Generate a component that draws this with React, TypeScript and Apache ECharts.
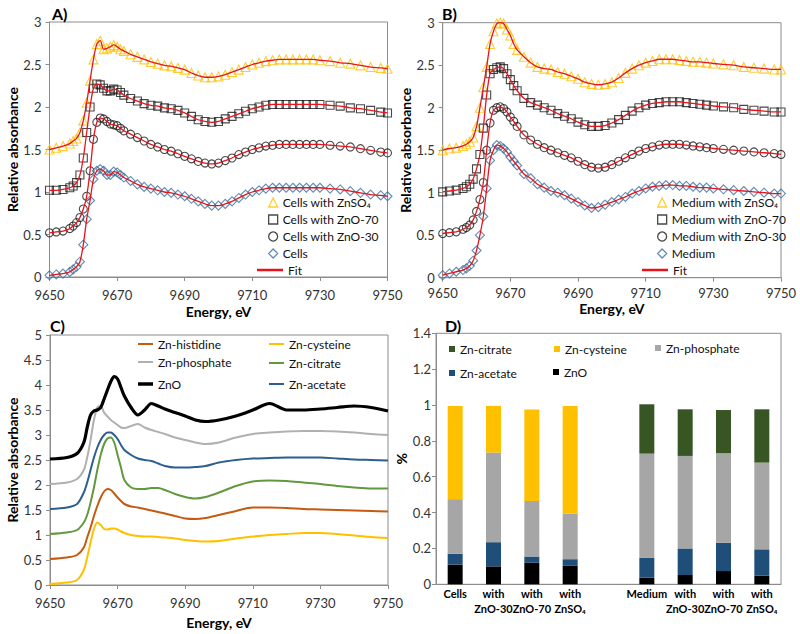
import React, { useEffect, useRef } from 'react';
import * as echarts from 'echarts';

const FONT = 'Lato, "Noto Sans", sans-serif';

// ---------- Panels A and B: energy grid (eV) ----------
const energyAB = [9650, 9652, 9654, 9656, 9657, 9658, 9659, 9660, 9661, 9662, 9663, 9664, 9665, 9666, 9667, 9668, 9669, 9670, 9671, 9672, 9674, 9676, 9678, 9680, 9682, 9684, 9686, 9688, 9690, 9692, 9694, 9696, 9698, 9700, 9702, 9704, 9706, 9708, 9710, 9712, 9714, 9716, 9718, 9720, 9722, 9724, 9726, 9728, 9730, 9733, 9736, 9739, 9742, 9745, 9748, 9750];

// Panel A
const cellsZnSO4 = [1.50, 1.52, 1.54, 1.57, 1.60, 1.63, 1.70, 1.84, 2.05, 2.31, 2.56, 2.74, 2.78, 2.68, 2.69, 2.71, 2.73, 2.71, 2.68, 2.66, 2.62, 2.59, 2.56, 2.53, 2.51, 2.49, 2.48, 2.46, 2.44, 2.40, 2.37, 2.35, 2.35, 2.36, 2.38, 2.41, 2.44, 2.47, 2.50, 2.52, 2.54, 2.55, 2.56, 2.56, 2.56, 2.56, 2.56, 2.56, 2.55, 2.54, 2.52, 2.51, 2.49, 2.47, 2.46, 2.45];
const cellsZnO70 = [1.02, 1.02, 1.03, 1.05, 1.07, 1.11, 1.20, 1.40, 1.70, 2.00, 2.22, 2.27, 2.26, 2.22, 2.19, 2.19, 2.21, 2.20, 2.17, 2.14, 2.10, 2.07, 2.04, 2.02, 2.01, 1.99, 1.98, 1.96, 1.93, 1.89, 1.85, 1.83, 1.82, 1.83, 1.86, 1.89, 1.92, 1.95, 1.98, 2.00, 2.02, 2.03, 2.03, 2.03, 2.03, 2.03, 2.03, 2.03, 2.03, 2.02, 2.01, 1.99, 1.98, 1.96, 1.94, 1.93];
const cellsZnO30 = [0.52, 0.53, 0.54, 0.57, 0.60, 0.64, 0.70, 0.80, 0.95, 1.25, 1.62, 1.82, 1.87, 1.86, 1.83, 1.80, 1.79, 1.78, 1.75, 1.72, 1.68, 1.64, 1.60, 1.56, 1.53, 1.50, 1.48, 1.45, 1.42, 1.39, 1.36, 1.34, 1.33, 1.34, 1.37, 1.40, 1.44, 1.47, 1.50, 1.52, 1.54, 1.55, 1.56, 1.56, 1.56, 1.56, 1.56, 1.56, 1.56, 1.55, 1.54, 1.53, 1.51, 1.49, 1.47, 1.46];
const cellsOnly = [0.02, 0.03, 0.04, 0.06, 0.09, 0.12, 0.18, 0.38, 0.68, 0.90, 1.15, 1.25, 1.27, 1.25, 1.20, 1.20, 1.24, 1.23, 1.20, 1.17, 1.13, 1.09, 1.06, 1.04, 1.02, 1.00, 0.99, 0.97, 0.95, 0.92, 0.89, 0.86, 0.84, 0.84, 0.86, 0.89, 0.93, 0.97, 1.00, 1.02, 1.04, 1.05, 1.05, 1.05, 1.05, 1.05, 1.05, 1.05, 1.05, 1.04, 1.03, 1.01, 0.99, 0.97, 0.96, 0.95];

// Panel B
const mediumZnSO4 = [1.50, 1.52, 1.53, 1.55, 1.57, 1.60, 1.65, 1.78, 2.00, 2.24, 2.48, 2.75, 2.90, 2.99, 3.00, 2.99, 2.92, 2.85, 2.75, 2.68, 2.60, 2.53, 2.48, 2.46, 2.45, 2.42, 2.40, 2.37, 2.34, 2.30, 2.28, 2.27, 2.28, 2.30, 2.35, 2.41, 2.46, 2.50, 2.53, 2.55, 2.57, 2.57, 2.57, 2.56, 2.55, 2.54, 2.54, 2.53, 2.52, 2.51, 2.50, 2.48, 2.47, 2.46, 2.45, 2.45];
const mediumZnO70 = [1.01, 1.02, 1.03, 1.05, 1.07, 1.10, 1.16, 1.28, 1.45, 1.76, 2.15, 2.40, 2.45, 2.47, 2.48, 2.46, 2.40, 2.33, 2.26, 2.20, 2.11, 2.06, 2.03, 2.00, 1.97, 1.93, 1.90, 1.87, 1.83, 1.80, 1.78, 1.78, 1.79, 1.82, 1.86, 1.91, 1.96, 2.00, 2.03, 2.05, 2.06, 2.07, 2.07, 2.07, 2.06, 2.05, 2.04, 2.03, 2.02, 2.01, 2.00, 1.98, 1.97, 1.96, 1.95, 1.95];
const mediumZnO30 = [0.52, 0.53, 0.54, 0.57, 0.59, 0.62, 0.68, 0.78, 0.92, 1.12, 1.50, 1.82, 1.97, 2.00, 2.01, 1.99, 1.95, 1.89, 1.84, 1.78, 1.68, 1.62, 1.57, 1.53, 1.50, 1.47, 1.44, 1.41, 1.37, 1.33, 1.30, 1.29, 1.30, 1.33, 1.37, 1.41, 1.45, 1.49, 1.52, 1.54, 1.56, 1.57, 1.57, 1.57, 1.56, 1.55, 1.54, 1.53, 1.52, 1.51, 1.50, 1.49, 1.48, 1.47, 1.46, 1.45];
const mediumOnly = [0.03, 0.05, 0.07, 0.09, 0.11, 0.14, 0.20, 0.32, 0.50, 0.72, 1.05, 1.38, 1.50, 1.56, 1.55, 1.52, 1.48, 1.42, 1.37, 1.32, 1.22, 1.17, 1.10, 1.06, 1.02, 1.00, 0.97, 0.93, 0.89, 0.85, 0.82, 0.83, 0.86, 0.89, 0.92, 0.95, 0.99, 1.02, 1.05, 1.07, 1.08, 1.09, 1.09, 1.08, 1.08, 1.07, 1.06, 1.06, 1.05, 1.04, 1.03, 1.02, 1.01, 1.00, 0.99, 0.99];

// ---------- Panel C: reference compounds ----------
const energyC = [9650, 9655, 9658, 9660, 9661, 9662, 9663, 9664, 9665, 9666, 9667, 9668, 9669, 9670, 9671, 9672, 9674, 9676, 9678, 9680, 9682, 9684, 9687, 9690, 9693, 9696, 9700, 9705, 9710, 9715, 9720, 9725, 9730, 9735, 9740, 9745, 9750];
const znHistidine = [0.52, 0.55, 0.60, 0.75, 0.95, 1.15, 1.38, 1.58, 1.75, 1.87, 1.92, 1.90, 1.83, 1.75, 1.68, 1.62, 1.57, 1.55, 1.52, 1.49, 1.46, 1.43, 1.38, 1.33, 1.32, 1.34, 1.40, 1.48, 1.55, 1.55, 1.54, 1.52, 1.51, 1.50, 1.49, 1.48, 1.47];
const znCysteine = [0.02, 0.05, 0.10, 0.30, 0.55, 0.85, 1.12, 1.25, 1.20, 1.12, 1.11, 1.13, 1.13, 1.11, 1.07, 1.04, 1.00, 0.98, 0.97, 0.97, 0.96, 0.95, 0.93, 0.90, 0.88, 0.87, 0.88, 0.93, 0.97, 1.00, 1.02, 1.04, 1.04, 1.02, 0.99, 0.96, 0.94];
const znPhosphate = [2.02, 2.05, 2.12, 2.30, 2.55, 2.90, 3.30, 3.55, 3.58, 3.45, 3.37, 3.30, 3.25, 3.20, 3.15, 3.14, 3.18, 3.22, 3.15, 3.10, 3.06, 3.02, 2.95, 2.90, 2.85, 2.82, 2.85, 2.95, 3.02, 3.05, 3.07, 3.08, 3.08, 3.07, 3.05, 3.02, 3.00];
const znCitrate = [1.02, 1.05, 1.10, 1.25, 1.40, 1.65, 1.95, 2.30, 2.60, 2.82, 2.93, 2.95, 2.85, 2.60, 2.35, 2.10, 1.95, 1.92, 1.92, 1.94, 1.94, 1.90, 1.82, 1.76, 1.73, 1.76, 1.85, 1.98, 2.07, 2.09, 2.08, 2.05, 2.02, 1.98, 1.95, 1.93, 1.93];
const znAcetate = [1.52, 1.55, 1.62, 1.85, 2.05, 2.30, 2.55, 2.75, 2.90, 3.00, 3.05, 3.05, 3.00, 2.92, 2.80, 2.70, 2.60, 2.53, 2.50, 2.48, 2.43, 2.38, 2.35, 2.35, 2.36, 2.38, 2.45, 2.50, 2.53, 2.54, 2.55, 2.55, 2.55, 2.53, 2.51, 2.50, 2.49];
const znOxide = [2.52, 2.55, 2.63, 2.85, 3.15, 3.40, 3.48, 3.50, 3.55, 3.72, 3.90, 4.07, 4.17, 4.12, 3.95, 3.78, 3.55, 3.40, 3.50, 3.63, 3.58, 3.52, 3.45, 3.38, 3.30, 3.27, 3.30, 3.38, 3.50, 3.63, 3.50, 3.50, 3.52, 3.55, 3.58, 3.55, 3.48];

// ---------- Panel D: fractions ----------
const dCategories = ['Cells', 'with\nZnO-30', 'with\nZnO-70', 'with\nZnSO₄', '', 'Medium', 'with\nZnO-30', 'with\nZnO-70', 'with\nZnSO₄'];
const dZnO = [0.11, 0.10, 0.12, 0.105, null, 0.037, 0.052, 0.074, 0.048];
const dAcetate = [0.06, 0.135, 0.035, 0.035, null, 0.112, 0.148, 0.158, 0.147];
const dPhosphate = [0.305, 0.50, 0.31, 0.255, null, 0.58, 0.516, 0.50, 0.484];
const dCysteine = [0.52, 0.26, 0.51, 0.60, null, 0, 0, 0, 0];
const dCitrate = [0, 0, 0, 0, null, 0.275, 0.26, 0.24, 0.297];

const AXIS_COLOR = '#8c8c8c';
const TICK_TEXT = { color: '#333', fontSize: 13, fontFamily: FONT };
const NAME_TEXT = { color: '#000', fontSize: 14, fontWeight: 'bold' as const, fontFamily: FONT };
const LEGEND_TEXT = { color: '#111', fontSize: 12, fontFamily: FONT, lineHeight: 15 };

const C_YELLOW = '#ffc000';
const C_BLUE = '#3e6f9e';
const C_RED = '#e8141c';

function energyAxis(gridIndex: number, labelMargin: number, nameGap: number) {
  return {
    type: 'value', gridIndex, min: 9650, max: 9750, interval: 20,
    name: 'Energy, eV', nameLocation: 'middle', nameGap, nameTextStyle: NAME_TEXT,
    axisLine: { show: true, lineStyle: { color: AXIS_COLOR } },
    axisTick: { show: true, length: 4, lineStyle: { color: AXIS_COLOR } },
    axisLabel: { ...TICK_TEXT, margin: labelMargin, formatter: (v: number) => String(v) },
    splitLine: { show: false },
  };
}

function valueAxis(gridIndex: number, max: number, interval: number, name: string, nameGap: number, labelMargin: number) {
  return {
    type: 'value', gridIndex, min: 0, max, interval,
    name, nameLocation: 'middle', nameGap, nameTextStyle: NAME_TEXT,
    axisLine: { show: true, lineStyle: { color: AXIS_COLOR } },
    axisTick: { show: true, length: 4, lineStyle: { color: AXIS_COLOR } },
    axisLabel: { ...TICK_TEXT, margin: labelMargin },
    splitLine: { show: false },
  };
}

function markers(name: string, values: number[], symbol: string, color: string, size: number, axis: number) {
  return {
    type: 'scatter', name, xAxisIndex: axis, yAxisIndex: axis,
    data: energyAB.map((e, i) => [e, values[i]]),
    symbol, symbolSize: size, clip: false, z: 2,
    itemStyle: { color: 'rgba(255,255,255,0)', borderColor: color, borderWidth: 1.1 },
  };
}

function fit(values: number[], axis: number) {
  return {
    type: 'line', name: 'Fit', xAxisIndex: axis, yAxisIndex: axis,
    data: energyAB.map((e, i) => [e, values[i]]),
    smooth: 0.3, symbol: 'none', z: 3,
    lineStyle: { color: C_RED, width: 1.3 }, itemStyle: { color: C_RED },
  };
}

function refLine(name: string, values: number[], color: string, width: number) {
  return {
    type: 'line', name, xAxisIndex: 2, yAxisIndex: 2,
    data: energyC.map((e, i) => [e, values[i]]),
    smooth: 0.3, symbol: 'none',
    lineStyle: { color, width }, itemStyle: { color },
  };
}

function bar(name: string, values: (number | null)[], color: string) {
  return {
    type: 'bar', name, xAxisIndex: 3, yAxisIndex: 3, stack: 'total',
    data: values, barWidth: 15, itemStyle: { color },
  };
}

function oneLegend(data: any, left: number, cy: number, w: number, h: number, extra: any = {}) {
  return {
    data: [data], left, top: cy - 7.5, itemWidth: w, itemHeight: h, padding: 0,
    selectedMode: false, textStyle: LEGEND_TEXT, ...extra,
  };
}

const lineIcon = (name: string, color: string, h: number) => ({ name, icon: 'rect', itemStyle: { color, borderWidth: 0 } });

function buildOption() {
  const gridBase = { show: true, borderColor: AXIS_COLOR, borderWidth: 1, backgroundColor: 'transparent' };
  const titleFont = `bold 16px ${FONT}`;
  return {
    animation: false,
    backgroundColor: '#ffffff',
    textStyle: { fontFamily: FONT },
    grid: [
      { ...gridBase, left: 49.5, top: 22, width: 338, height: 255 },
      { ...gridBase, left: 442.7, top: 22.7, width: 338.3, height: 255 },
      { ...gridBase, left: 50, top: 335, width: 338, height: 250 },
      { ...gridBase, left: 436, top: 333.3, width: 345, height: 251 },
    ],
    xAxis: [
      energyAxis(0, 11, 27),
      energyAxis(1, 9, 24),
      energyAxis(2, 11, 30),
      {
        type: 'category', gridIndex: 3, data: dCategories,
        axisLine: { show: true, lineStyle: { color: AXIS_COLOR } },
        axisTick: { show: false },
        axisLabel: { interval: 0, margin: 2, color: '#000', fontSize: 11, fontWeight: 'bold', fontFamily: FONT, lineHeight: 15 },
        splitLine: { show: false },
      },
    ],
    yAxis: [
      valueAxis(0, 3, 0.5, 'Relative absorbance', 30, 8),
      valueAxis(1, 3, 0.5, 'Relative absorbance', 28, 8),
      valueAxis(2, 5, 0.5, 'Relative absorbance', 30, 8),
      valueAxis(3, 1.4, 0.2, '%', 24, 5),
    ],
    legend: [
      {
        data: ['Cells with ZnSO₄', 'Cells with ZnO-70', 'Cells with ZnO-30', 'Cells'],
        orient: 'vertical', left: 268, top: 195, itemWidth: 9, itemHeight: 9, itemGap: 2, padding: 0,
        selectedMode: false, textStyle: LEGEND_TEXT, itemStyle: { borderWidth: 1.3 },
      },
      oneLegend(lineIcon('Fit', C_RED, 2), 257, 270, 26, 2.5),
      {
        data: ['Medium with ZnSO₄', 'Medium with ZnO-70', 'Medium with ZnO-30', 'Medium'],
        orient: 'vertical', left: 657, top: 195, itemWidth: 9, itemHeight: 9, itemGap: 2, padding: 0,
        selectedMode: false, textStyle: LEGEND_TEXT, itemStyle: { borderWidth: 1.3 },
      },
      oneLegend(lineIcon('Fit', C_RED, 2), 642, 270, 26, 2.5),
      oneLegend(lineIcon('Zn-histidine', '#c55a11', 2), 138, 344, 15, 2),
      oneLegend(lineIcon('Zn-phosphate', '#b0b0b0', 2), 138, 362, 15, 2),
      oneLegend(lineIcon('ZnO', '#000000', 3), 138, 384, 15, 3.5),
      oneLegend(lineIcon('Zn-cysteine', C_YELLOW, 2), 269, 344, 15, 2),
      oneLegend(lineIcon('Zn-citrate', '#62993e', 2), 269, 363, 15, 2),
      oneLegend(lineIcon('Zn-acetate', '#2c5f8f', 2), 269, 384, 15, 2),
      oneLegend({ name: 'Zn-citrate', icon: 'rect', itemStyle: { color: '#375623', borderWidth: 0 } }, 449, 349, 6, 6),
      oneLegend({ name: 'Zn-cysteine', icon: 'rect', itemStyle: { color: C_YELLOW, borderWidth: 0 } }, 554, 349, 6, 6),
      oneLegend({ name: 'Zn-phosphate', icon: 'rect', itemStyle: { color: '#a6a6a6', borderWidth: 0 } }, 655, 348, 6, 6),
      oneLegend({ name: 'Zn-acetate', icon: 'rect', itemStyle: { color: '#1f4e79', borderWidth: 0 } }, 449, 373, 6, 6),
      oneLegend({ name: 'ZnO', icon: 'rect', itemStyle: { color: '#000', borderWidth: 0 } }, 553, 372, 6, 6),
    ],
    graphic: [
      { type: 'text', x: 52, y: 13, style: { text: 'A)', font: titleFont, fill: '#000', verticalAlign: 'middle' } },
      { type: 'text', x: 442, y: 13, style: { text: 'B)', font: titleFont, fill: '#000', verticalAlign: 'middle' } },
      { type: 'text', x: 50, y: 325, style: { text: 'C)', font: titleFont, fill: '#000', verticalAlign: 'middle' } },
      { type: 'text', x: 445, y: 325, style: { text: 'D)', font: titleFont, fill: '#000', verticalAlign: 'middle' } },
    ],
    series: [
      // A
      markers('Cells with ZnSO₄', cellsZnSO4, 'triangle', C_YELLOW, 9, 0),
      markers('Cells with ZnO-70', cellsZnO70, 'rect', '#1a1a1a', 8, 0),
      markers('Cells with ZnO-30', cellsZnO30, 'circle', '#1a1a1a', 8, 0),
      markers('Cells', cellsOnly, 'diamond', C_BLUE, 9, 0),
      fit(cellsZnSO4, 0), fit(cellsZnO70, 0), fit(cellsZnO30, 0), fit(cellsOnly, 0),
      // B
      markers('Medium with ZnSO₄', mediumZnSO4, 'triangle', C_YELLOW, 9, 1),
      markers('Medium with ZnO-70', mediumZnO70, 'rect', '#1a1a1a', 8, 1),
      markers('Medium with ZnO-30', mediumZnO30, 'circle', '#1a1a1a', 8, 1),
      markers('Medium', mediumOnly, 'diamond', C_BLUE, 9, 1),
      fit(mediumZnSO4, 1), fit(mediumZnO70, 1), fit(mediumZnO30, 1), fit(mediumOnly, 1),
      // C
      refLine('Zn-histidine', znHistidine, '#c55a11', 2),
      refLine('Zn-cysteine', znCysteine, C_YELLOW, 2),
      refLine('Zn-phosphate', znPhosphate, '#b0b0b0', 2),
      refLine('Zn-citrate', znCitrate, '#62993e', 2),
      refLine('Zn-acetate', znAcetate, '#2c5f8f', 2),
      refLine('ZnO', znOxide, '#000000', 3.2),
      // D
      bar('ZnO', dZnO, '#000000'),
      bar('Zn-acetate', dAcetate, '#1f4e79'),
      bar('Zn-phosphate', dPhosphate, '#a6a6a6'),
      bar('Zn-cysteine', dCysteine, C_YELLOW),
      bar('Zn-citrate', dCitrate, '#375623'),
    ],
  };
}

export default function App() {
  const ref = useRef<HTMLDivElement>(null);
  useEffect(() => {
    const chart = echarts.init(ref.current as HTMLDivElement, null, { renderer: 'svg' });
    chart.setOption(buildOption() as any);
    return () => chart.dispose();
  }, []);
  return (
    <div
      ref={ref}
      style={{ position: 'absolute', left: 0, top: 0, width: 800, height: 634, background: '#fff' }}
    />
  );
}
